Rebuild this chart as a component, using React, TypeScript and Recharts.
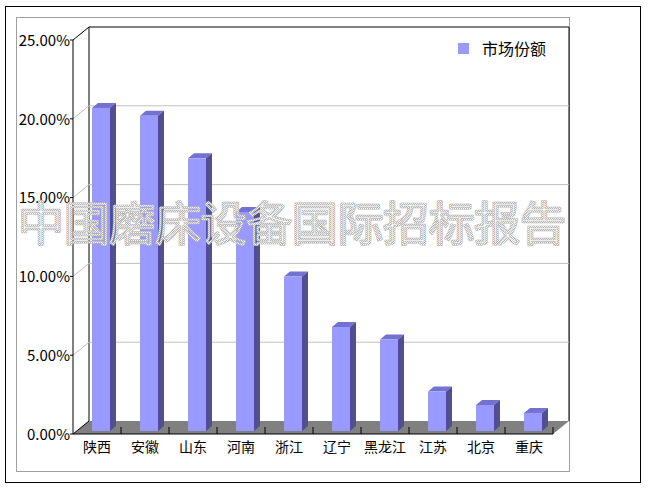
import { Bar, BarChart, CartesianGrid, Legend, XAxis, YAxis } from "recharts";

// 各省市场份额（%）
const CATEGORIES = ["陕西", "安徽", "山东", "河南", "浙江", "辽宁", "黑龙江", "江苏", "北京", "重庆"];
const SHARE = [20.5, 20.0, 17.3, 13.9, 9.8, 6.6, 5.8, 2.5, 1.65, 1.15];
const Y_TICKS = [0, 5, 10, 15, 20, 25];
const SERIES_NAME = "市场份额";
const WATERMARK = "中国磨床设备国际招标报告";

const W = 650;
const H = 489;
// front face of the 3D box (= recharts plot area)
const PLOT = { left: 73, top: 40, right: 553, bottom: 434 };
const DEPTH = { x: 16, y: 13 };
const Y_AXIS_W = 60;
const X_AXIS_H = 30;
const FONT = '"Noto Sans CJK SC", sans-serif';

const FRONT = "#9999FF";
const SIDE = "#50508F";
const TOP = "#7272D2";

const data = CATEGORIES.map((name, i) => ({ name, share: SHARE[i] }));

function Bar3D(props: any) {
  const { x, y, width, height } = props;
  if (!height || height <= 0) return null;
  const fx = x + 4;
  const fy = y - 3;
  const bx = 6;
  const by = 5;
  const top = `${fx},${fy} ${fx + bx},${fy - by} ${fx + width + bx},${fy - by} ${fx + width},${fy}`;
  const side = `${fx + width},${fy} ${fx + width + bx},${fy - by} ${fx + width + bx},${fy + height - by} ${fx + width},${fy + height}`;
  return (
    <g>
      <polygon points={top} fill={TOP} />
      <polygon points={side} fill={SIDE} />
      <rect x={fx} y={fy} width={width} height={height} fill={FRONT} />
    </g>
  );
}

// gridline: diagonal on the left wall, then across the back wall
function GridLine(props: any) {
  const { x1, x2, y1 } = props;
  if (Math.abs(y1 - PLOT.top) < 1 || Math.abs(y1 - PLOT.bottom) < 1) return <g key={props.key} />;
  const d = `M${x1},${y1} L${x1 + DEPTH.x},${y1 - DEPTH.y} L${x2 + DEPTH.x},${y1 - DEPTH.y}`;
  return <path key={props.key} d={d} stroke="#C0C0C0" fill="none" strokeWidth={1} />;
}

function YTick(props: any) {
  const { x, y, payload } = props;
  return (
    <text x={x} y={y} dy="0.38em" textAnchor="end" fontFamily={FONT} fontSize={15} fill="#000">
      {`${Number(payload.value).toFixed(2)}%`}
    </text>
  );
}

function XTick(props: any) {
  const { x, y, payload } = props;
  const band = (PLOT.right - PLOT.left) / CATEGORIES.length;
  return (
    <g>
      <line x1={x + band / 2} x2={x + band / 2} y1={PLOT.bottom - 7} y2={PLOT.bottom} stroke="#000" />
      <text x={x} y={y} dy={18} textAnchor="middle" fontFamily={FONT} fontSize={14} fill="#000">
        {payload.value}
      </text>
    </g>
  );
}

function LegendBox(props: any) {
  const label = props?.payload?.[0]?.value ?? SERIES_NAME;
  return (
    <div style={{ display: "flex", alignItems: "center", fontFamily: FONT, fontSize: 16, color: "#000" }}>
      <span style={{ display: "inline-block", width: 11, height: 11, background: FRONT, marginRight: 13 }} />
      <span>{label}</span>
    </div>
  );
}

function Background() {
  const { left: L, top: T, right: R, bottom: B } = PLOT;
  const dx = DEPTH.x;
  const dy = DEPTH.y;
  return (
    <svg width={W} height={H} style={{ position: "absolute", left: 0, top: 0 }}>
      <rect x={0} y={0} width={W} height={H} fill="#fff" />
      <rect x={5.5} y={6.5} width={635} height={476} fill="none" stroke="#000" />
      <rect x={16.5} y={17.5} width={553} height={454} fill="none" stroke="#A0A0A0" />
      <polygon points={`${L},${B} ${R},${B} ${R + dx},${B - dy} ${L + dx},${B - dy}`} fill="#808080" />
      <polyline
        points={`${L + dx},${B - dy} ${L + dx},${T - dy} ${R + dx},${T - dy} ${R + dx},${B - dy}`}
        fill="none"
        stroke="#000"
      />
      <line x1={L} y1={T} x2={L + dx} y2={T - dy} stroke="#000" />
      <polyline points={`${L + dx},${B - dy} ${L},${B} ${R},${B}`} fill="none" stroke="#000" />
    </svg>
  );
}

function Watermark() {
  const common = {
    x: 18,
    y: 240,
    fontFamily: FONT,
    fontSize: 46,
    textLength: 548,
    lengthAdjust: "spacing",
    fill: "none",
    strokeLinejoin: "round" as const,
  };
  return (
    <svg width={W} height={H} style={{ position: "absolute", left: 0, top: 0, pointerEvents: "none" }}>
      <defs>
        <pattern id="hatch" width={2} height={2} patternUnits="userSpaceOnUse">
          <rect width={2} height={2} fill="#ffffff" />
          <rect width={1} height={1} fill="#B8B8B8" />
          <rect x={1} y={1} width={1} height={1} fill="#B8B8B8" />
        </pattern>
      </defs>
      <text {...common} stroke="#BBBBBB" strokeWidth={2.4}>
        {WATERMARK}
      </text>
      <text {...common} stroke="url(#hatch)" strokeWidth={1.2}>
        {WATERMARK}
      </text>
    </svg>
  );
}

export default function App() {
  return (
    <div style={{ position: "absolute", left: 0, top: 0, width: W, height: H }}>
      <Background />
      <div style={{ position: "absolute", left: 0, top: 0 }}>
        <BarChart
          width={W}
          height={H}
          data={data}
          margin={{
            top: PLOT.top,
            right: W - PLOT.right,
            left: PLOT.left - Y_AXIS_W,
            bottom: H - PLOT.bottom - X_AXIS_H,
          }}
        >
          <CartesianGrid horizontal={GridLine} vertical={false} />
          <XAxis
            dataKey="name"
            height={X_AXIS_H}
            axisLine={false}
            tickLine={false}
            tickSize={0}
            tickMargin={0}
            interval={0}
            tick={XTick}
          />
          <YAxis
            width={Y_AXIS_W}
            domain={[0, 25]}
            ticks={Y_TICKS}
            interval={0}
            axisLine={{ stroke: "#000" }}
            tickLine={{ stroke: "#000" }}
            tickSize={3}
            tickMargin={0}
            tick={YTick}
          />
          <Legend
            layout="horizontal"
            verticalAlign="middle"
            align="center"
            wrapperStyle={{ position: "absolute", top: 36, left: 458, width: 120, height: 20 }}
            content={LegendBox}
          />
          <Bar
            dataKey="share"
            name={SERIES_NAME}
            fill={FRONT}
            barSize={18}
            shape={Bar3D}
            isAnimationActive={false}
          />
        </BarChart>
      </div>
      <Watermark />
    </div>
  );
}
